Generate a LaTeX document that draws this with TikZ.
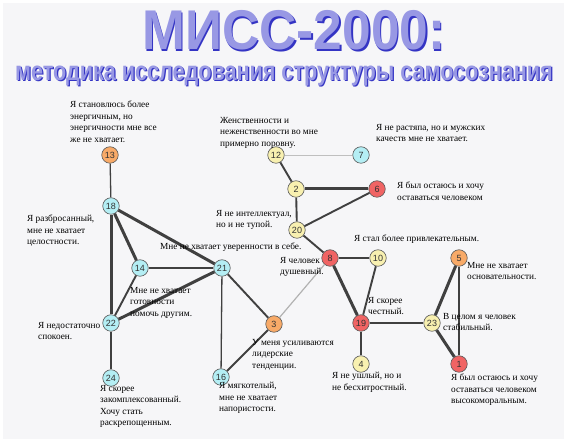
\documentclass[tikz,border=0pt]{standalone}
\usepackage{fontspec}
\usepackage{graphicx}
\setmainfont{Liberation Serif}
\newfontfamily\headfont{Liberation Sans}
\usetikzlibrary{positioning}

\definecolor{paper}{HTML}{F6F6F8}
\definecolor{vcyan}{HTML}{B4EEF4}
\definecolor{vorange}{HTML}{F8AA68}
\definecolor{vyellow}{HTML}{F8F0B0}
\definecolor{vred}{HTML}{F06464}
\definecolor{titlefill}{HTML}{9898E4}
\definecolor{titleshade}{HTML}{3434C4}
\definecolor{edgegray}{HTML}{404040}

\tikzset{
  vert/.style={circle, draw=black!65, line width=0.6pt, minimum size=16.5pt, inner sep=0pt,
    font=\headfont\fontsize{9}{9}\selectfont, text=black!80},
  vcy/.style={vert, fill=vcyan},
  vor/.style={vert, fill=vorange},
  vye/.style={vert, fill=vyellow},
  vre/.style={vert, fill=vred},
  note/.style={anchor=north west, align=left, inner sep=0pt, font=\fontsize{9.3}{11.5}\selectfont},
  headline/.style={inner sep=0pt},
  heavy/.style={line width=3pt, draw=edgegray},
  medium/.style={line width=1.9pt, draw=edgegray},
  light/.style={line width=1.3pt, draw=edgegray},
  pale/.style={line width=1.2pt, draw=black!30},
}

\begin{document}
\begin{tikzpicture}[x=1pt,y=-1pt]
\useasboundingbox (0,0) rectangle (568,443);
\fill[paper] (3,3) rectangle (564,439);

% title
\node[headline, text=titleshade] (titleb) at (295.5,32) {\scalebox{0.92}[1]{\headfont\bfseries\fontsize{56}{56}\selectfont МИСС-2000:}};
\node[headline, text=titlefill] (title) at (294,30.5) {\scalebox{0.92}[1]{\headfont\bfseries\fontsize{56}{56}\selectfont МИСС-2000:}};
\node[headline, text=titleshade] (subb) at (285.2,77) {\scalebox{0.80}[1]{\headfont\bfseries\fontsize{27}{27}\selectfont методика исследования структуры самосознания}};
\node[headline, text=titlefill] (sub) at (284,76) {\scalebox{0.80}[1]{\headfont\bfseries\fontsize{27}{27}\selectfont методика исследования структуры самосознания}};

% vertices
\node[vor] (n13) at (110,155) {13};
\node[vcy] (n18) at (111,206) {18};
\node[vcy] (n14) at (140,268) {14};
\node[vcy] (n21) at (222,268) {21};
\node[vcy] (n22) at (111,323) {22};
\node[vcy] (n24) at (111,378) {24};
\node[vcy] (n16) at (221,377) {16};
\node[vor] (n3) at (274,324) {3};
\node[vye] (n12) at (276,155) {12};
\node[vcy] (n7) at (361,155) {7};
\node[vye] (n2) at (296,189) {2};
\node[vre] (n6) at (377,189) {6};
\node[vye] (n20) at (297,230) {20};
\node[vre] (n8) at (330,258) {8};
\node[vye] (n10) at (378,258) {10};
\node[vre] (n19) at (361,323) {19};
\node[vye] (n4) at (361,364) {4};
\node[vye] (n23) at (432,323) {23};
\node[vor] (n5) at (459,258) {5};
\node[vre] (n1) at (459,364) {1};

% connections
\draw[light] (n13) -- (n18);
\draw[heavy] (n18) -- (n22);
\draw[heavy] (n18) -- (n14);
\draw[heavy] (n18) -- (n21);
\draw[light] (n14) -- (n21);
\draw[medium] (n14) -- (n22);
\draw[heavy] (n22) -- (n21);
\draw[light] (n22) -- (n24);
\draw[light] (n21) -- (n16);
\draw[medium] (n21) -- (n3);
\draw[medium] (n16) -- (n3);
\draw[pale] (n3) -- (n8);
\draw[line width=0.8pt, draw=black!25] (n12) -- (n7);
\draw[medium] (n12) -- (n2);
\draw[heavy] (n2) -- (n6);
\draw[medium] (n2) -- (n20);
\draw[medium] (n20) -- (n6);
\draw[medium] (n20) -- (n8);
\draw[medium] (n8) -- (n10);
\draw[heavy] (n8) -- (n19);
\draw[medium] (n10) -- (n19);
\draw[medium] (n19) -- (n4);
\draw[light] (n19) -- (n23);
\draw[heavy] (n23) -- (n5);
\draw[heavy] (n23) -- (n1);
\draw[light] (n5) -- (n1);

% statements
\node[note] (t13) at (70,101) {Я становлюсь более\\энергичным, но\\энергичности мне все\\же не хватает.};
\node[note] (t18) at (27,215) {Я разбросанный,\\мне не хватает\\целостности.};
\node[note] (t12) at (220,117) {Женственности и\\неженственности во мне\\примерно поровну.};
\node[note] (t7) at (376,124) {Я не растяпа, но и мужских\\качеств мне не хватает.};
\node[note] (t6) at (397,182) {Я был остаюсь и хочу\\оставаться человеком};
\node[note] (t20) at (216,210) {Я не интеллектуал,\\но и не тупой.};
\node[note] (t21) at (160,243) {Мне не хватает уверенности в себе.};
\node[note] (t10) at (354,235) {Я стал более привлекательным.};
\node[note] (t8) at (280,257) {Я человек\\душевный.};
\node[note] (t5) at (467,262) {Мне не хватает\\основательности.};
\node[note] (t14) at (130,287) {Мне не хватает\\готовности\\помочь другим.};
\node[note] (t19) at (368,297) {Я скорее\\честный.};
\node[note] (t23) at (443,313) {В целом я человек\\стабильный.};
\node[note] (t22) at (38,322) {Я недостаточно\\спокоен.};
\node[note] (t3) at (252,339) {У меня усиливаются\\лидерские\\тенденции.};
\node[note] (t24) at (100,385) {Я скорее\\закомплексованный.\\Хочу стать\\раскрепощенным.};
\node[note] (t16) at (219,382) {Я мягкотелый,\\мне не хватает\\напористости.};
\node[note] (t4) at (332,372) {Я не ушлый, но и\\не бесхитростный.};
\node[note] (t1) at (451,374) {Я был остаюсь и хочу\\оставаться человеком\\высокоморальным.};
\end{tikzpicture}
\end{document}
